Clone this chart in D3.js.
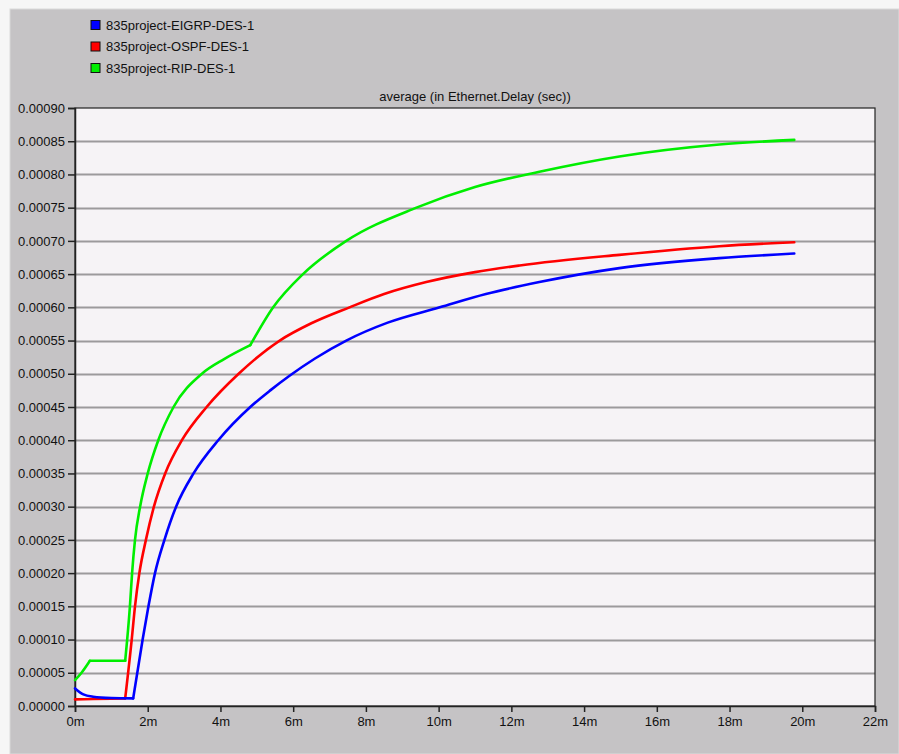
<!DOCTYPE html>
<html>
<head>
<meta charset="utf-8">
<script src="https://cdn.jsdelivr.net/npm/d3@7"></script>
<style>
  body { margin: 0; background: #f6f6f6; }
  svg { display: block; }
  text { font-family: "Liberation Sans", Arial, sans-serif; fill: #111; }
</style>
</head>
<body>
<svg width="899" height="754"></svg>
<script>
// series names shown in legend
const seriesNames = ["835project-EIGRP-DES-1", "835project-OSPF-DES-1", "835project-RIP-DES-1"];
const seriesColors = ["#0000ff", "#ff0000", "#00ee00"];

// time in minutes, delay in seconds
const eigrpTime  = [0, 0.23, 0.5, 1.0, 1.6, 1.86, 2.02, 2.2, 2.46, 2.78, 3.26, 3.94, 4.82, 5.37, 5.9, 6.6, 7.46, 8.6, 10.03, 11.3, 12.77, 14.97, 17.72, 19.78];
const eigrpDelay = [0.0000265, 0.0000175, 0.000014, 0.000012, 0.0000115, 0.0001, 0.00015, 0.0002, 0.00025, 0.0003, 0.00035, 0.0004, 0.00045, 0.000475, 0.000497, 0.000523, 0.00055, 0.000577, 0.0006, 0.00062, 0.000638, 0.000659, 0.000674, 0.000681];
const eigrpBreaks = [1.6];

const ospfTime  = [0, 0.5, 1.0, 1.38, 1.56, 1.65, 1.77, 1.95, 2.17, 2.48, 2.94, 3.62, 4.5, 5.63, 6.5, 7.55, 8.5, 9.66, 11.0, 12.23, 14.97, 17.72, 19.78];
const ospfDelay = [0.00001, 0.0000105, 0.000011, 0.0000115, 0.0001, 0.00015, 0.0002, 0.00025, 0.0003, 0.00035, 0.0004, 0.00045, 0.0005, 0.00055, 0.000576, 0.0006, 0.00062, 0.000638, 0.000653, 0.000663, 0.000679, 0.000692, 0.000698];
const ospfBreaks = [1.38];

const ripTime  = [0, 0.18, 0.41, 1.38, 1.51, 1.57, 1.65, 1.79, 2.0, 2.29, 2.71, 3.49, 4.1, 4.82, 5.45, 6.27, 7.46, 9.39, 11.0, 12.77, 14.97, 17.72, 19.78];
const ripDelay = [0.000039, 0.00005, 0.000068, 0.000068, 0.00015, 0.0002, 0.00025, 0.0003, 0.00035, 0.0004, 0.00045, 0.0005, 0.000522, 0.000543, 0.0006, 0.00065, 0.0007, 0.00075, 0.000781, 0.000804, 0.000827, 0.000845, 0.000852];
const ripBreaks = [0.41, 1.38, 4.82];

const xTicks = d3.range(0, 23, 2);
const yTicks = d3.range(0, 0.00091, 0.00005);

const svg = d3.select("svg");

// outer panel
svg.append("rect").attr("x", 10).attr("y", 9).attr("width", 889).attr("height", 745)
  .attr("fill", "#c5c3c5").attr("stroke", "#dadada");

const plotLeft = 75, plotRight = 875, plotTop = 108, plotBottom = 706;

const x = d3.scaleLinear().domain([0, 22]).range([plotLeft, plotRight]);
const y = d3.scaleLinear().domain([0, 0.0009]).range([plotBottom, plotTop]);

// plot background
svg.append("rect").attr("x", plotLeft).attr("y", plotTop)
  .attr("width", plotRight - plotLeft).attr("height", plotBottom - plotTop)
  .attr("fill", "#f6f3f6");

// grid
svg.append("g").selectAll("line")
  .data(yTicks.slice(1, -1))
  .enter().append("line")
  .attr("x1", plotLeft).attr("x2", plotRight)
  .attr("y1", d => Math.round(y(d)) + 0.5).attr("y2", d => Math.round(y(d)) + 0.5)
  .attr("stroke", "#9c9a9c").attr("stroke-width", 2);

// frame
svg.append("rect").attr("x", plotLeft).attr("y", plotTop)
  .attr("width", plotRight - plotLeft).attr("height", plotBottom - plotTop)
  .attr("fill", "none").attr("stroke", "#222").attr("stroke-width", 1.2);

// axes
const yAxis = d3.axisLeft(y).tickValues(yTicks).tickSize(7).tickPadding(3)
  .tickFormat(d => d.toFixed(5));
const xAxis = d3.axisBottom(x).tickValues(xTicks).tickSize(6).tickPadding(5)
  .tickFormat(d => d + "m");

const gy = svg.append("g").attr("transform", `translate(${plotLeft},0)`).call(yAxis);
const gx = svg.append("g").attr("transform", `translate(0,${plotBottom})`).call(xAxis);
[gy, gx].forEach(g => {
  g.select(".domain").attr("stroke", "#222").attr("stroke-width", 1.5);
  g.selectAll(".tick line").attr("stroke", "#222").attr("stroke-width", 1.5);
  g.selectAll("text").attr("font-size", 13).attr("fill", "#111")
    .attr("font-family", "Liberation Sans, Arial, sans-serif");
});

// title
svg.append("text").attr("x", (plotLeft + plotRight) / 2).attr("y", 101)
  .attr("text-anchor", "middle").attr("font-size", 13)
  .text("average (in Ethernet.Delay (sec))");

// lines: each series split at its sharp corners, smooth in between
const series = [
  { time: eigrpTime, delay: eigrpDelay, breaks: eigrpBreaks },
  { time: ospfTime, delay: ospfDelay, breaks: ospfBreaks },
  { time: ripTime, delay: ripDelay, breaks: ripBreaks }
];
const line = d3.line()
  .x(d => x(d[0]))
  .y(d => y(d[1]))
  .curve(d3.curveMonotoneX);

function splitAtBreaks(pts, breaks) {
  let segs = [[]];
  pts.forEach(p => {
    segs[segs.length - 1].push(p);
    if (breaks.includes(p[0])) segs.push([p]);
  });
  return segs.filter(s => s.length > 1);
}

// draw RIP first, EIGRP on top
[2, 1, 0].forEach(i => {
  const s = series[i];
  const pts = s.time.map((t, j) => [t, s.delay[j]]);
  svg.append("g").selectAll("path")
    .data(splitAtBreaks(pts, s.breaks))
    .enter().append("path")
    .attr("d", line)
    .attr("fill", "none")
    .attr("stroke", seriesColors[i])
    .attr("stroke-width", 2.6)
    .attr("stroke-linejoin", "round")
    .attr("stroke-linecap", "round");
});

// legend
const legend = svg.append("g");
seriesNames.forEach((name, i) => {
  const ly = 25 + i * 21.5;
  legend.append("rect").attr("x", 91).attr("y", ly - 4.5)
    .attr("width", 9).attr("height", 9)
    .attr("fill", seriesColors[i]).attr("stroke", "#111");
  legend.append("text").attr("x", 106).attr("y", ly + 4.5)
    .attr("font-size", 13).text(name);
});
</script>
</body>
</html>
